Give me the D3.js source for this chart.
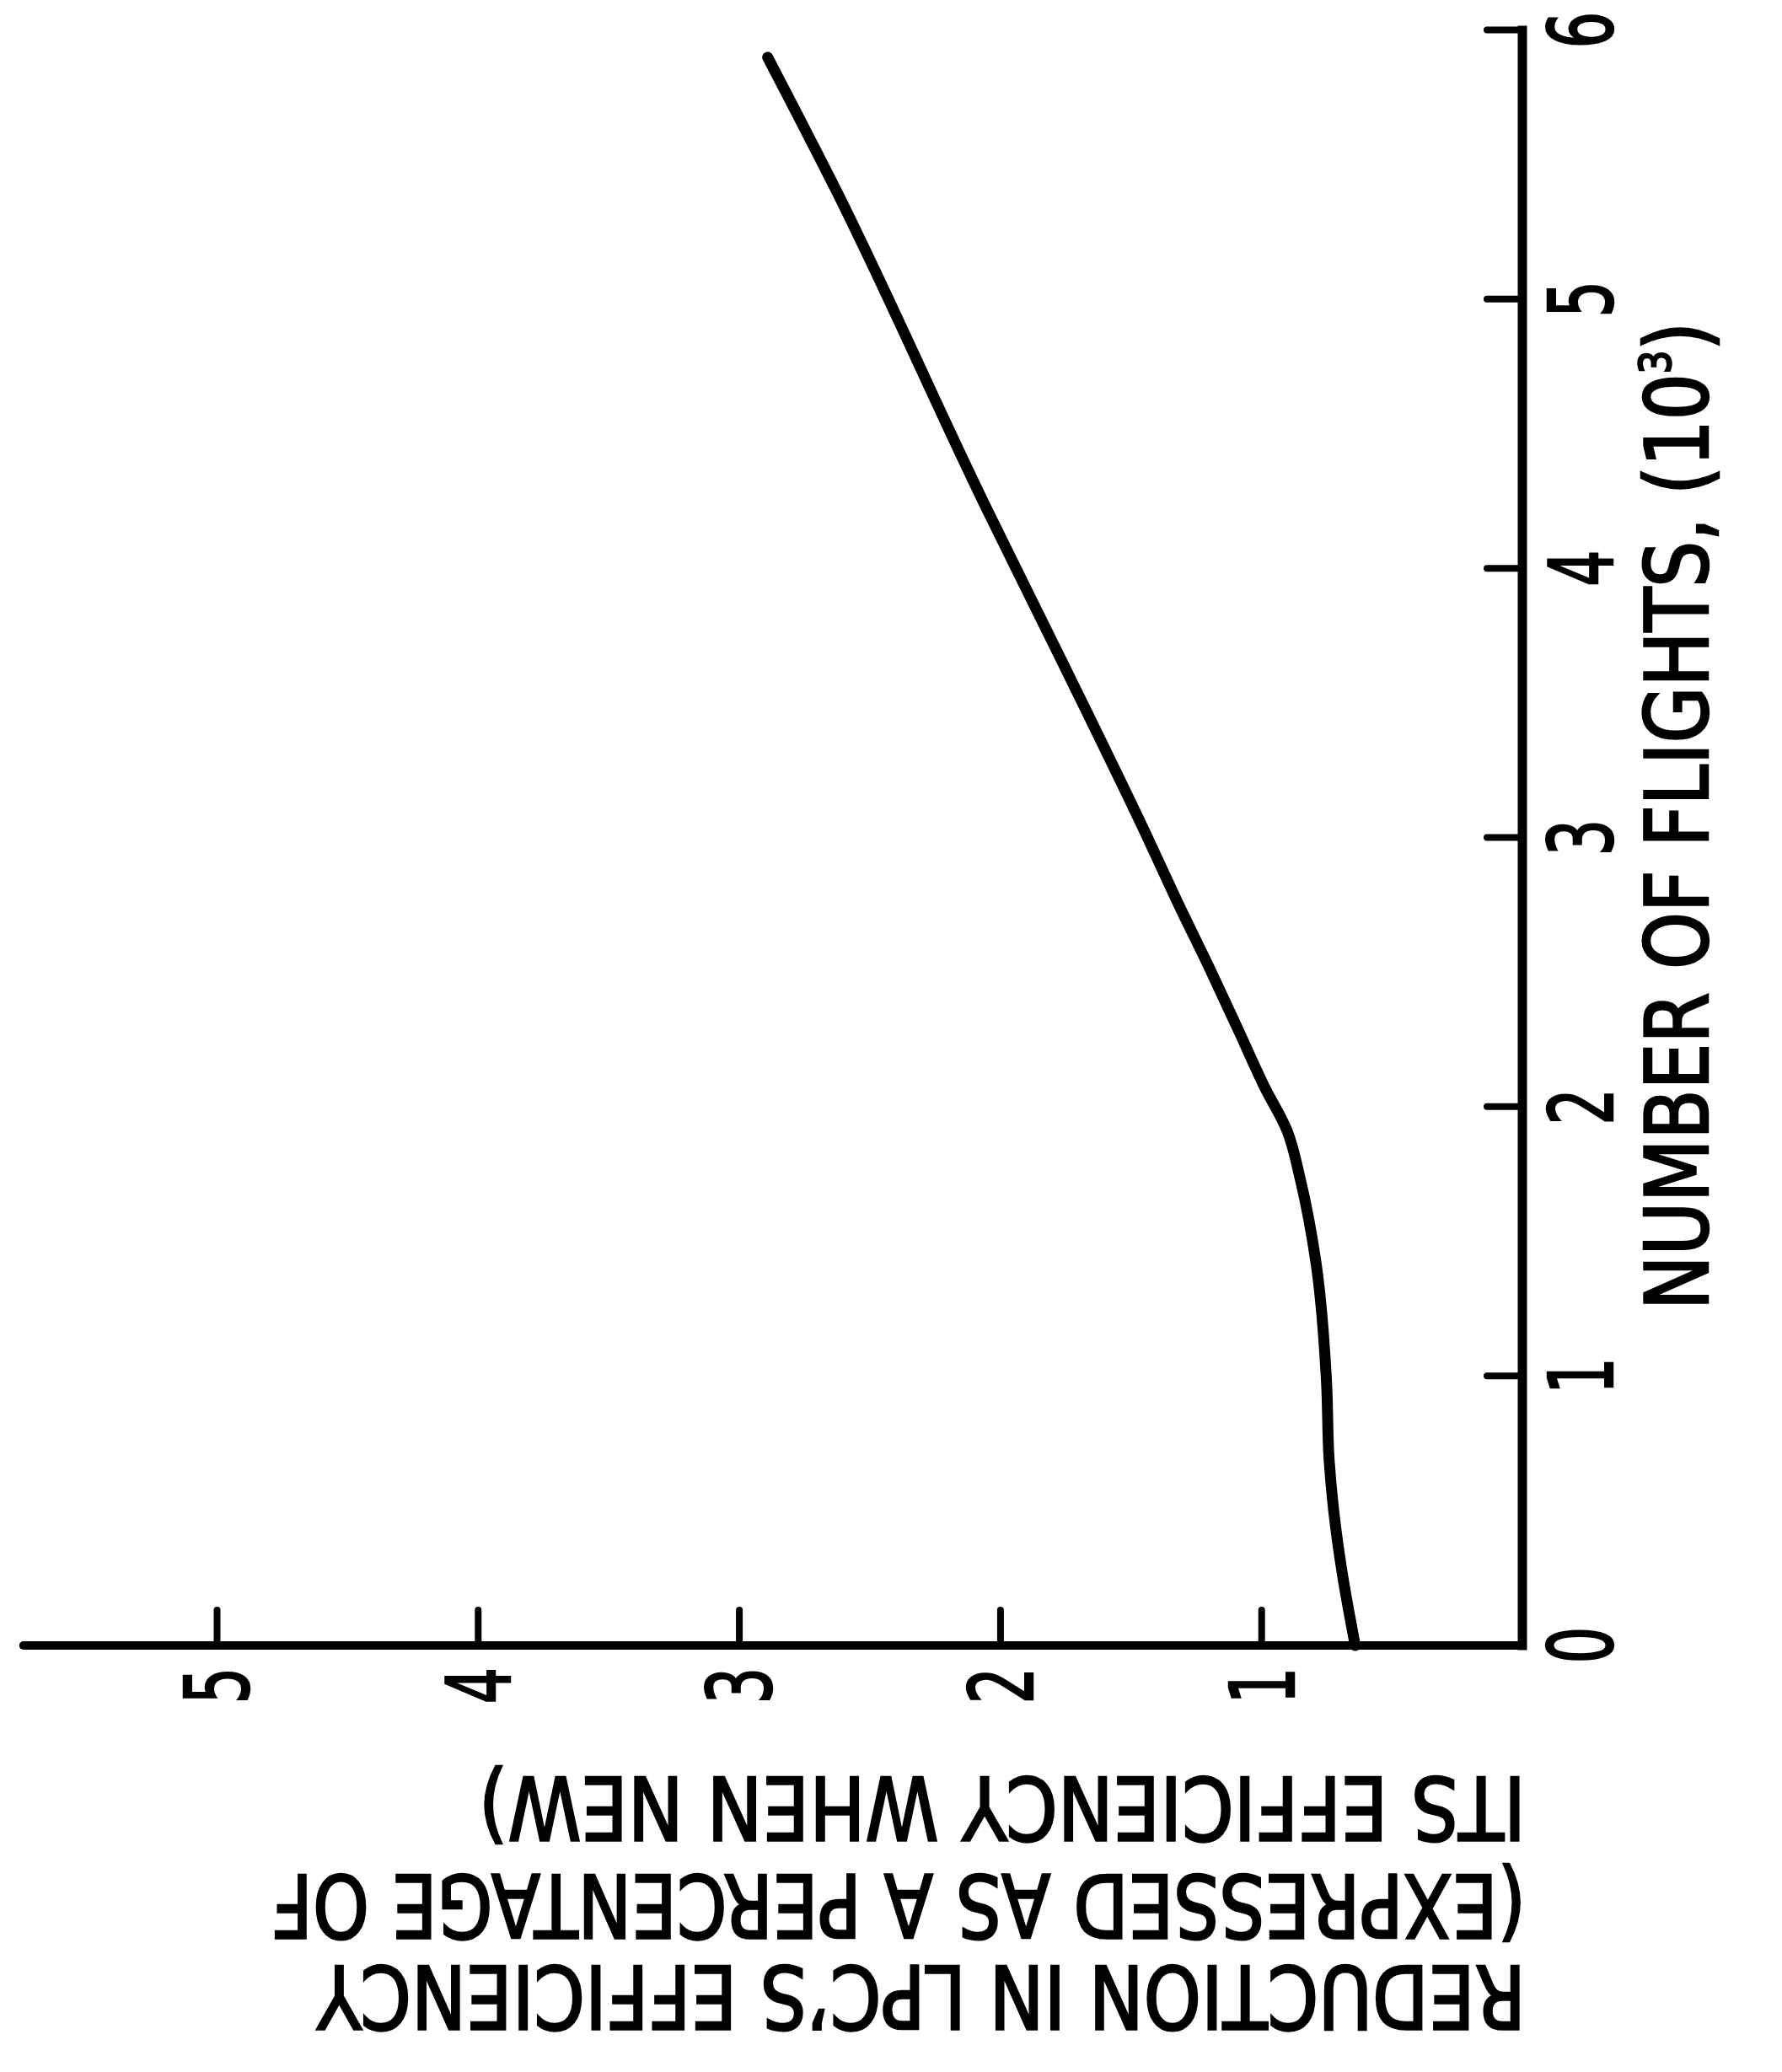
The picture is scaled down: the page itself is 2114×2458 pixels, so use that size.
<!DOCTYPE html>
<html>
<head>
<meta charset="utf-8">
<script src="https://cdn.jsdelivr.net/npm/d3@7"></script>
<style>
  html, body { margin: 0; padding: 0; background: #fff; }
  svg { display: block; }
</style>
</head>
<body>
<svg id="chart"></svg>
<script>
// curve: number of flights (10^3) vs reduction (%)
let flights = [0, 0.27, 0.48, 0.69, 0.98, 1.42, 1.73, 1.91, 2.08, 2.27, 2.52, 2.76, 2.99, 3.65, 4.24, 5.41, 5.90];
let reduction = [0.64, 0.69, 0.72, 0.74, 0.75, 0.79, 0.85, 0.90, 0.99, 1.08, 1.20, 1.32, 1.43, 1.76, 2.06, 2.63, 2.89];

let flightTicks = [0, 1, 2, 3, 4, 5, 6];
let reductionTicks = [1, 2, 3, 4, 5];

let xTitle = 'NUMBER OF FLIGHTS, (10';
let xTitleSup = '3';
let yTitle = ['ITS EFFICIENCY WHEN NEW)', '(EXPRESSED AS A PERCENTAGE OF', 'REDUCTION IN LPC\u2019S EFFICIENCY'];

let width = 2114;
let height = 2458;
let font = '"DejaVu Sans Condensed", "DejaVu Sans", sans-serif';
let squeeze = 0.72; // the plotter font is narrow

let svg = d3.select('#chart')
  .attr('width', width)
  .attr('height', height);

svg.append('rect')
  .attr('width', width)
  .attr('height', height)
  .attr('fill', '#fff');

// the figure is drawn upright and then turned a quarter turn anticlockwise
let plot = svg.append('g')
  .attr('transform', translate(0, height) + ' rotate(-90)');

let x = d3.scaleLinear().domain([0, 6]).range([506, 2422]);
let y = d3.scaleLinear().domain([0, 5]).range([1806, 257]);

// tick marks point into the plot
let xAxis = d3.axisBottom(x)
  .tickValues(flightTicks)
  .tickSizeInner(-42)
  .tickSizeOuter(0)
  .tickFormat(d3.format('d'));

let yAxis = d3.axisLeft(y)
  .tickValues(reductionTicks)
  .tickSizeInner(-42)
  .tickSizeOuter(0)
  .tickFormat(d3.format('d'));

let xGroup = plot.append('g').attr('transform', translate(0, y(0))).call(xAxis);
let yGroup = plot.append('g').attr('transform', translate(x(0), 0)).call(yAxis);

[xGroup, yGroup].forEach(function(grp) {
  grp.select('.domain').remove();
  grp.selectAll('.tick line')
    .attr('stroke', '#000')
    .attr('stroke-width', 8)
    .attr('stroke-linecap', 'round');
  grp.selectAll('.tick text')
    .attr('fill', '#000')
    .attr('stroke', '#000')
    .attr('stroke-width', 2.5)
    .style('font-family', font)
    .style('font-size', '105px');
});

xGroup.selectAll('.tick text')
  .attr('y', 30 + 77)
  .attr('dy', null)
  .attr('text-anchor', 'middle')
  .attr('transform', 'scale(' + squeeze + ',1)');

yGroup.selectAll('.tick text')
  .attr('x', -26 / squeeze)
  .attr('dy', '0.36em')
  .attr('text-anchor', 'end')
  .attr('transform', 'scale(' + squeeze + ',1)');

// axis lines
plot.append('line')
  .attr('x1', x(0)).attr('x2', x(6))
  .attr('y1', y(0)).attr('y2', y(0))
  .attr('stroke', '#000')
  .attr('stroke-width', 11)
  .attr('stroke-linecap', 'square');

plot.append('line')
  .attr('x1', x(0)).attr('x2', x(0))
  .attr('y1', y(0)).attr('y2', y(5.74))
  .attr('stroke', '#000')
  .attr('stroke-width', 10)
  .attr('stroke-linecap', 'round');

// the curve
let pairs = flights.map(function(f, i) {
  return { f: f, r: reduction[i] };
});

plot.append('path')
  .datum(pairs)
  .attr('fill', 'none')
  .attr('stroke', '#000')
  .attr('stroke-width', 13)
  .attr('stroke-linecap', 'round')
  .attr('stroke-linejoin', 'round')
  .attr('d', d3.line()
    .x(function(d) { return x(d.f); })
    .y(function(d) { return y(d.r); })
    .curve(d3.curveMonotoneX)
  );

// x axis title
let xt = plot.append('text')
  .attr('x', 904)
  .attr('y', 2026)
  .attr('textLength', 1172)
  .attr('lengthAdjust', 'spacingAndGlyphs')
  .attr('fill', '#000')
  .attr('stroke', '#000')
  .attr('stroke-width', 2.5)
  .style('font-family', font)
  .style('font-size', '104px');

xt.append('tspan').text(xTitle);
xt.append('tspan')
  .attr('dy', -44)
  .style('font-size', '52px')
  .text(xTitleSup);
xt.append('tspan')
  .attr('dy', 44)
  .text(')');

// y axis title, three lines rotated along the axis
let baselines = [350, 234, 126];
let lengths = [1242, 1488, 1434];

yTitle.forEach(function(line, i) {
  plot.append('text')
    .attr('transform', translate(baselines[i], 1810) + ' rotate(-90)')
    .attr('x', 0)
    .attr('y', 0)
    .attr('textLength', lengths[i])
    .attr('lengthAdjust', 'spacingAndGlyphs')
    .attr('fill', '#000')
    .attr('stroke', '#000')
    .attr('stroke-width', 2.5)
    .style('font-family', font)
    .style('font-size', '104px')
    .text(line);
});

// helper method to make translating easier
function translate(x, y) {
  return 'translate(' + x + ',' + y + ')';
}
</script>
</body>
</html>
